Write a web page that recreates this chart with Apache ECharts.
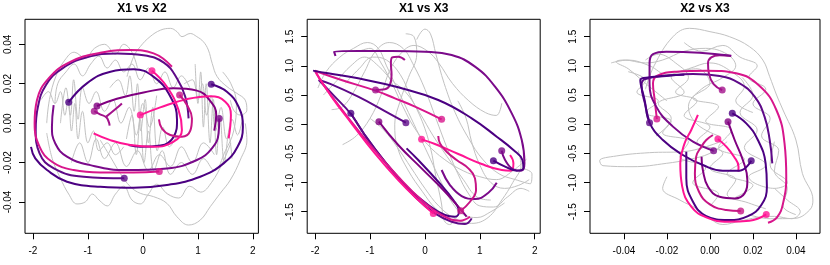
<!DOCTYPE html>
<html><head><meta charset="utf-8">
<script src="https://cdn.jsdelivr.net/npm/echarts@6/dist/echarts.min.js"></script>
<style>html,body{margin:0;padding:0;background:#fff}#c{width:830px;height:265px}</style>
</head><body><div id="c"></div><script>
// ---- tick values ----
const x1Ticks = [-2, -1, 0, 1, 2];
const x2Ticks = [-0.04, -0.02, 0, 0.02, 0.04];
const x3Ticks = [-1.5, -1, -0.5, 0, 0.5, 1, 1.5];
const titles = ['X1 vs X2', 'X1 vs X3', 'X2 vs X3'];

// ---- coloured trajectories: panel 1 (X1,X2) ----
const A1 = [[-1.35,0.0106],[-1.02,0.0202],[-0.59,0.0261],[-0.17,0.0273],[0.19,0.0236],[0.50,0.0134],[0.62,0.0016],[0.56,-0.0069],[0.32,-0.0114],[-0.05,-0.0120],[-0.26,-0.0111]];
const B1 = [[-0.34,-0.0280],[-1.08,-0.0272],[-1.62,-0.0229],[-1.88,-0.0153],[-1.95,-0.0035],[-1.91,0.0083],[-1.76,0.0195],[-1.47,0.0277],[-1.02,0.0334],[-0.47,0.0354],[0.01,0.0345],[0.38,0.0307],[0.62,0.0227],[0.77,0.0134],[0.83,0.0024]];
const C1 = [[-0.885,0.0061],[-0.78,0.0045],[-0.667,0.0030],[-0.62,0.0005],[-0.606,-0.0013]];
const C1b = [[-0.667,0.0033],[-0.503,0.0070],[-0.382,0.0100]];
const D1 = [[-0.836,0.0087],[-0.473,0.0124],[0.012,0.0156],[0.558,0.0177],[0.982,0.0165],[1.212,0.0117],[1.333,0.0041],[1.297,-0.0038]];
const E1 = [[0.297,-0.0245],[-0.170,-0.0250],[-0.776,-0.0250],[-1.261,-0.0238],[-1.655,-0.0196],[-1.879,-0.0120],[-1.97,-0.0001],[-1.927,0.0117],[-1.715,0.0227],[-1.321,0.0311],[-0.776,0.0357],[-0.230,0.0371],[0.194,0.0354],[0.527,0.0286]];
const F1 = [[-0.048,0.0041],[0.315,0.0080],[0.800,0.0122],[1.224,0.0137],[1.497,0.0109],[1.600,0.0041],[1.558,-0.0077]];
const G1 = [[1.388,0.0024],[1.376,-0.0052],[1.255,-0.0128],[0.982,-0.0187],[0.436,-0.0230],[-0.291,-0.0238],[-0.958,-0.0213],[-1.382,-0.0170],[-1.594,-0.0103],[-1.655,-0.0018],[-1.624,0.0092]];
const H1 = [[1.242,0.0197],[1.527,0.0159],[1.739,0.0083],[1.818,-0.0018],[1.721,-0.0120],[1.467,-0.0204],[1.042,-0.0272],[0.436,-0.0314],[-0.170,-0.0328],[-0.776,-0.0323],[-1.382,-0.0297],[-1.745,-0.0238],[-1.958,-0.0179],[-2.036,-0.0120]];
const I1 = [[0.667,0.0143],[0.800,0.0092],[0.891,0.0024],[0.861,-0.0038],[0.709,-0.0069],[0.497,-0.0060],[0.345,-0.0027],[0.291,0.0019]];
const J1 = [[0.164,0.0266],[0.436,0.0185],[0.648,0.0066],[0.709,-0.0035],[0.558,-0.0094],[0.194,-0.0120],[-0.230,-0.0111],[-0.594,-0.0086],[-0.897,-0.0052]];

// ---- coloured trajectories: panel 2 (X1,X3) ----
const A2 = [[-1.350,0.186],[-1.095,-0.185],[-0.730,-0.642],[-0.304,-1.099],[0.061,-1.385],[0.365,-1.557],[0.547,-1.586],[0.620,-1.500],[0.517,-1.300],[0.243,-0.986],[-0.122,-0.614],[-0.335,-0.414]];
const B2 = [[-0.347,0.026],[-0.730,0.226],[-1.217,0.472],[-1.703,0.683],[-1.934,0.758],[-1.642,0.472],[-1.350,0.175],[-1.034,-0.271],[-0.608,-0.785],[-0.182,-1.243],[0.182,-1.529],[0.487,-1.671],[0.730,-1.711],[0.852,-1.614]];
const C2 = [[-0.900,0.586],[-0.730,0.598],[-0.639,0.672],[-0.608,0.843],[-0.620,1.043],[-0.596,1.146],[-0.487,1.158],[-0.365,1.100]];
const D2 = [[-0.839,0.043],[-0.487,-0.357],[-0.061,-0.757],[0.365,-1.157],[0.608,-1.414],[0.760,-1.586]];
const E2 = [[0.304,0.083],[-0.182,0.301],[-0.547,0.443],[-0.900,0.575],[-1.521,0.758],[-2.007,0.917],[-1.825,0.643],[-1.460,0.186],[-0.973,-0.386],[-0.487,-0.900],[-0.061,-1.300],[0.304,-1.557],[0.639,-1.654],[0.821,-1.586]];
const F2 = [[-0.061,-0.260],[0.182,-0.340],[0.608,-0.511],[1.034,-0.683],[1.399,-0.785],[1.569,-0.797],[1.612,-0.671],[1.551,-0.528]];
const G2 = [[1.399,-0.454],[1.460,-0.614],[1.612,-0.774],[1.752,-0.797],[1.813,-0.671],[1.764,-0.271],[1.582,0.186],[1.277,0.643],[0.912,0.986],[0.487,1.186],[0.000,1.243],[-0.608,1.255],[-1.217,1.255],[-1.655,1.243],[-1.630,1.169]];
const H2 = [[1.247,-0.626],[1.460,-0.728],[1.673,-0.797],[1.794,-0.757],[1.776,-0.614],[1.612,-0.443],[1.308,-0.214],[0.852,0.101],[0.243,0.415],[-0.487,0.632],[-1.217,0.786],[-1.764,0.872],[-2.038,0.918]];
const I2 = [[0.651,-1.483],[0.821,-1.329],[0.931,-1.129],[0.912,-0.928],[0.791,-0.757],[0.578,-0.614],[0.395,-0.472],[0.274,-0.329],[0.243,-0.203]];
const J2 = [[0.152,-1.529],[-0.122,-1.300],[-0.487,-0.957],[-0.912,-0.500],[-1.338,0.015],[-1.703,0.472],[-1.977,0.872]];
const K2 = [[1.308,-1.003],[1.156,-1.174],[0.912,-1.283],[0.669,-1.231],[0.456,-1.043],[0.304,-0.785]];

// ---- coloured trajectories: panel 3 (X2,X3) ----
const A3 = [[0.0104,0.186],[0.0169,0.015],[0.0223,-0.271],[0.0259,-0.671],[0.0265,-1.071],[0.0239,-1.386],[0.0177,-1.575],[0.0084,-1.643],[-0.0017,-1.575],[-0.0079,-1.329],[-0.0110,-0.928],[-0.0110,-0.471]];
const B3 = [[-0.0281,0.026],[-0.0299,0.301],[-0.0318,0.672],[-0.0304,0.769],[-0.0203,0.826],[-0.0079,0.861],[0.0045,0.826],[0.0138,0.701],[0.0208,0.472],[0.0254,0.129],[0.0278,-0.271],[0.0290,-0.671]];
const C3 = [[0.0057,0.586],[0.0017,0.689],[-0.0005,0.871],[-0.0009,1.043],[0.0006,1.145],[0.0045,1.181],[0.0099,1.169]];
const D3 = [[0.0084,0.043],[0.0115,-0.271],[0.0153,-0.614],[0.0174,-0.957],[0.0161,-1.186],[0.0115,-1.272],[0.0045,-1.243],[-0.0009,-1.071],[-0.0033,-0.786],[-0.0039,-0.557]];
const E3 = [[-0.0247,0.089],[-0.0257,0.415],[-0.0265,0.701],[-0.0247,0.826],[-0.0157,0.901],[-0.0017,0.918],[0.0122,0.872],[0.0231,0.655],[0.0309,0.243],[0.0347,-0.328],[0.0355,-0.900],[0.0340,-1.357],[0.0312,-1.597],[0.0270,-1.689]];
const F3 = [[0.0037,-0.254],[0.0076,-0.385],[0.0112,-0.557],[0.0133,-0.728],[0.0132,-0.814]];
const G3 = [[0.0017,-0.454],[-0.0079,-0.299],[-0.0172,-0.042],[-0.0250,0.301],[-0.0281,0.701],[-0.0281,1.043],[-0.0265,1.203],[-0.0203,1.243],[-0.0048,1.226],[0.0099,1.175]];
const H3 = [[0.0192,-0.625],[0.0138,-0.797],[0.0060,-0.797],[-0.0033,-0.700],[-0.0126,-0.528],[-0.0219,-0.271],[-0.0281,0.026],[-0.0304,0.415],[-0.0324,0.758],[-0.0281,0.803],[-0.0188,0.838],[-0.0119,0.849]];
const I3 = [[0.0143,-1.489],[0.0076,-1.471],[-0.0002,-1.369],[-0.0051,-1.157],[-0.0070,-0.843],[-0.0064,-0.557],[-0.0040,-0.385],[-0.0017,-0.271],[0.0014,-0.185]];
const J3 = [[0.0262,-1.546],[0.0184,-1.655],[0.0084,-1.671],[-0.0017,-1.597],[-0.0087,-1.414],[-0.0129,-1.071],[-0.0138,-0.671],[-0.0118,-0.329],[-0.0087,-0.100],[-0.0056,0.158]];

// ---- grey background trajectories ----
const grayP1a = [[-0.29,0.0236],[-0.17,0.0337],[-0.05,0.0388],[0.13,0.0439],[0.32,0.0472],[0.50,0.0481],[0.62,0.0464],[0.71,0.0439],[0.86,0.0455],[0.98,0.0439],[1.10,0.0413],[1.19,0.0371],[1.26,0.0303],[1.35,0.0236],[1.53,0.0185],[1.71,0.0151],[1.86,0.0117],[1.89,0.0066],[1.77,0.0041],[1.65,0.0066],[1.59,0.0117]];
const grayP1b = [[-0.776,-0.0086],[-0.594,-0.0170],[-0.412,-0.0255],[-0.230,-0.0322],[-0.048,-0.0356],[0.194,-0.0373],[0.436,-0.0407],[0.618,-0.0475],[0.830,-0.0517],[1.042,-0.0492],[1.224,-0.0424],[1.406,-0.0356],[1.588,-0.0289],[1.770,-0.0187],[1.891,-0.0086],[1.861,-0.0001]];
const grayP1c = [[-1.85,0.012],[-1.72,0.016],[-1.60,0.010],[-1.50,0.016],[-1.42,0.004],[-1.36,0.012],[-1.30,-0.004],[-1.24,0.010],[-1.18,-0.008],[-1.10,0.006],[-1.00,-0.010],[-0.90,-0.004],[-0.80,-0.014],[-0.65,-0.010],[-0.50,-0.016],[-0.35,-0.012]];
const grayP1d = [[-0.60,0.018],[-0.45,0.022],[-0.32,0.014],[-0.24,0.024],[-0.16,0.006],[-0.10,0.020],[-0.04,-0.004],[0.04,0.012],[0.10,-0.010],[0.18,0.008],[0.26,-0.014],[0.36,-0.002],[0.48,-0.012],[0.62,-0.006]];
const grayP1e = [[0.75,0.020],[0.90,0.022],[1.00,0.012],[1.08,0.020],[1.16,0.004],[1.24,0.014],[1.32,-0.004],[1.42,0.008],[1.52,-0.008],[1.62,0.002],[1.72,-0.006],[1.82,0.004]];
const grayP1f = [[-1.75,-0.005],[-1.65,-0.018],[-1.50,-0.028],[-1.35,-0.036],[-1.20,-0.041],[-1.05,-0.040],[-0.92,-0.036],[-0.80,-0.039],[-0.65,-0.042],[-0.50,-0.036],[-0.35,-0.032],[-0.20,-0.039],[-0.05,-0.041],[0.10,-0.036],[0.25,-0.031],[0.45,-0.036],[0.65,-0.038],[0.85,-0.032],[1.05,-0.035],[1.25,-0.030],[1.45,-0.020],[1.60,-0.010]];
const grayP1g = [[-1.60,0.010],[-1.55,0.020],[-1.40,0.026],[-1.25,0.030],[-1.10,0.024],[-0.95,0.030],[-0.80,0.034],[-0.65,0.028],[-0.50,0.032],[-0.35,0.026],[-0.20,0.030],[-0.05,0.022],[0.10,0.028],[0.25,0.020],[0.40,0.026],[0.55,0.018],[0.70,0.024],[0.85,0.018]];
const grayP1h = [[-1.30,-0.020],[-1.15,-0.010],[-1.00,-0.020],[-0.85,-0.008],[-0.70,-0.018],[-0.50,-0.010],[-0.30,-0.022],[-0.10,-0.014],[0.10,-0.024],[0.30,-0.016],[0.50,-0.022],[0.70,-0.012],[0.90,-0.020],[1.10,-0.010],[1.30,-0.016]];
const grayP1i = [[-1.50,0.000],[-1.40,0.018],[-1.32,0.004],[-1.26,0.022],[-1.18,0.002],[-1.10,0.018],[-0.98,0.010],[-0.85,0.016],[-0.70,0.006],[-0.55,0.012],[-0.40,0.000],[-0.25,0.008],[-0.12,-0.006],[0.00,0.010],[0.12,-0.002],[0.25,0.014]];
const grayP1j = [[-0.30,-0.008],[-0.20,0.004],[-0.12,-0.016],[-0.05,0.002],[0.02,-0.020],[0.10,-0.004],[0.20,-0.024],[0.35,-0.014],[0.50,-0.026],[0.70,-0.020],[0.90,-0.026],[1.10,-0.018],[1.30,-0.024],[1.50,-0.014],[1.65,-0.004],[1.70,0.010],[1.60,0.020],[1.45,0.026]];
const grayP1k = [[-1.75,0.000],[-1.70,0.012],[-1.58,0.024],[-1.42,0.032],[-1.25,0.036],[-1.05,0.033],[-0.88,0.038],[-0.70,0.040],[-0.50,0.035],[-0.35,0.040],[-0.20,0.036],[-0.10,0.028]];
const grayP1l = [[0.95,0.030],[1.00,0.010],[1.05,0.026],[1.10,-0.002],[1.15,0.020],[1.22,-0.010],[1.28,0.012],[1.34,-0.016],[1.40,0.004],[1.48,-0.020],[1.56,-0.006],[1.62,-0.018]];

const grayP2a = [[-1.95,0.62],[-1.80,0.90],[-1.55,1.15],[-1.30,1.30],[-1.05,1.40],[-0.85,1.30],[-0.70,1.00],[-0.50,0.60],[-0.30,0.20],[-0.10,-0.20],[0.10,-0.60],[0.30,-1.00],[0.50,-1.35],[0.70,-1.55],[0.95,-1.60],[1.20,-1.50],[1.45,-1.35]];
const grayP2b = [[-0.15,1.45],[0.00,1.63],[0.10,1.55],[0.20,1.20],[0.35,0.70],[0.55,0.20],[0.80,-0.25],[1.05,-0.60],[1.35,-0.85],[1.65,-0.95],[1.92,-1.02],[1.95,-0.85],[1.75,-0.75]];
const grayP2c = [[-1.70,0.25],[-1.50,0.30],[-1.30,0.55],[-1.10,0.90],[-0.90,1.25],[-0.65,1.40],[-0.40,1.30],[-0.20,1.00],[0.00,0.60],[0.20,0.10],[0.40,-0.40],[0.60,-0.85],[0.80,-1.20],[1.00,-1.40],[1.25,-1.42],[1.50,-1.25],[1.75,-1.10],[1.90,-1.15]];
const grayP2d = [[-1.45,0.70],[-1.20,0.95],[-0.95,1.15],[-0.70,1.10],[-0.45,0.85],[-0.25,0.45],[-0.05,0.05],[0.10,-0.40],[0.20,-0.90],[0.30,-1.35],[0.35,-1.65],[0.45,-1.72],[0.60,-1.55]];
const grayP2e = [[1.40,0.36],[1.30,0.15],[1.10,0.20],[0.80,0.40],[0.50,0.70],[0.25,1.05],[0.05,1.25],[-0.20,1.35],[-0.45,1.20],[-0.65,0.90],[-0.80,0.50],[-1.00,0.10],[-1.25,-0.20],[-1.50,-0.35]];
const grayP2f = [[-1.00,0.10],[-0.75,-0.10],[-0.50,-0.40],[-0.25,-0.75],[0.00,-1.10],[0.25,-1.40],[0.55,-1.62],[0.85,-1.70],[1.15,-1.60],[1.40,-1.30],[1.60,-1.00],[1.75,-0.70],[1.70,-0.45]];
const grayP2g = [[-0.35,1.55],[-0.20,1.50],[-0.15,1.20],[-0.30,0.80],[-0.45,0.40],[-0.55,0.00],[-0.50,-0.40],[-0.30,-0.80],[-0.05,-1.15],[0.20,-1.45],[0.45,-1.60]];
const grayP2h = [[-1.20,1.25],[-1.00,1.30],[-0.80,1.05],[-0.60,0.70],[-0.40,0.30],[-0.20,-0.05],[0.05,-0.35],[0.35,-0.60],[0.70,-0.80],[1.00,-0.90],[1.30,-0.95],[1.60,-0.80],[1.85,-0.60]];
const grayP2i = [[0.60,0.40],[0.75,0.10],[0.85,-0.30],[1.00,-0.70],[1.20,-1.00],[1.45,-1.10],[1.70,-1.05],[1.90,-0.95]];
const grayP2j = [[-1.85,0.50],[-1.60,0.75],[-1.35,1.00],[-1.10,1.15],[-0.85,1.00],[-0.60,0.75],[-0.35,0.55],[-0.10,0.20],[0.15,-0.20],[0.40,-0.55],[0.70,-0.95],[0.95,-1.25],[1.20,-1.30]];

const grayP3a = [[0.005,-0.30],[-0.005,-0.42],[-0.0126,-0.471],[-0.0281,-0.488],[-0.0436,-0.545],[-0.0513,-0.625],[-0.0498,-0.711],[-0.0358,-0.728],[-0.0203,-0.671],[-0.0095,-0.602],[0.000,-0.50],[0.008,-0.30]];
const grayP3b = [[-0.030,0.60],[-0.026,1.00],[-0.0172,1.50],[-0.0095,1.643],[0.000,1.586],[0.0091,1.500],[0.0184,1.329],[0.0246,1.100],[0.0278,0.815],[0.031,0.50],[0.034,0.243],[0.040,-0.271],[0.043,-0.843],[0.0479,-1.30],[0.0464,-1.47],[0.0394,-1.614],[0.028,-1.62],[0.018,-1.55]];
const grayP3c = [[-0.020,0.40],[-0.030,0.70],[-0.038,0.95],[-0.0436,1.071],[-0.040,1.10],[-0.030,1.05],[-0.022,1.10],[-0.012,1.25],[-0.002,1.30],[0.008,1.20],[0.012,1.00],[0.006,0.80],[-0.004,0.60],[-0.010,0.30],[-0.006,0.00],[0.004,-0.20]];
const grayP3d = [[-0.025,-0.20],[-0.018,0.10],[-0.024,0.35],[-0.012,0.55],[-0.018,0.80],[-0.006,0.95],[0.000,0.70],[-0.008,0.45],[0.004,0.30],[-0.002,0.05],[0.010,-0.10],[0.004,-0.40],[0.016,-0.60],[0.008,-0.85],[0.020,-1.05],[0.012,-1.25]];
const grayP3e = [[-0.020,-0.90],[-0.022,-1.10],[-0.014,-1.30],[-0.006,-1.45],[0.000,-1.62],[0.006,-1.72],[0.014,-1.66],[0.022,-1.60],[0.030,-1.58],[0.038,-1.62],[0.042,-1.50],[0.036,-1.30],[0.030,-1.10]];
const grayP3f = [[0.015,0.80],[0.020,0.50],[0.014,0.20],[0.022,-0.10],[0.016,-0.40],[0.026,-0.70],[0.018,-0.90],[0.030,-1.10],[0.036,-1.00],[0.028,-0.70],[0.030,-0.30]];
const grayP3g = [[-0.030,1.10],[-0.024,1.20],[-0.016,1.05],[-0.010,0.80],[-0.016,0.55],[-0.006,0.40],[-0.012,0.15],[0.000,-0.05],[-0.006,-0.30],[0.006,-0.50],[0.000,-0.75],[0.012,-0.95],[0.008,-1.20],[0.018,-1.35],[0.026,-1.45]];
const grayP3h = [[-0.038,0.90],[-0.030,0.75],[-0.034,0.55],[-0.024,0.40],[-0.030,0.20],[-0.018,0.05],[-0.022,-0.15],[-0.010,-0.30],[-0.014,-0.55],[-0.002,-0.75],[-0.008,-1.00],[0.004,-1.20],[0.000,-1.40]];
const grayP3i = [[-0.012,1.40],[-0.004,1.25],[0.006,1.35],[0.014,1.15],[0.022,1.00],[0.018,0.80],[0.026,0.60],[0.020,0.35],[0.028,0.10],[0.024,-0.20],[0.032,-0.45],[0.030,-0.80],[0.036,-1.10],[0.034,-1.40],[0.040,-1.55]];
const grayP3j = [[-0.046,1.05],[-0.038,1.10],[-0.028,1.00],[-0.020,0.85],[-0.010,0.95],[0.000,1.05],[0.010,0.90],[0.016,0.65],[0.012,0.40],[0.020,0.20]];

// ---- styling / assembly ----
const FONT = 'Liberation Sans, Arial, Helvetica, sans-serif';
const trajectories = [
  {color:'#4B0082', p:[A1, A2, A3], dot:true},
  {color:'#5E0A88', p:[B1, B2, B3], dot:true},
  {color:'#A3128B', p:[C1, C2, C3], dot:true},
  {color:'#A3128B', p:[C1b, null, null], dot:false},
  {color:'#800080', p:[D1, D2, D3], dot:true},
  {color:'#D8168C', p:[E1, E2, E3], dot:true},
  {color:'#FF1493', p:[F1, F2, F3], dot:true},
  {color:'#7A0A8A', p:[G1, G2, G3], dot:true},
  {color:'#7A0A8A', p:[null, K2, null], dot:false},
  {color:'#4B0082', p:[H1, H2, H3], dot:true},
  {color:'#C71585', p:[I1, I2, I3], dot:true},
  {color:'#FF1493', p:[J1, J2, J3], dot:true}
];
const grays = [
  [grayP1a, grayP1b, grayP1c, grayP1d, grayP1e, grayP1f, grayP1g, grayP1h, grayP1i, grayP1j, grayP1k, grayP1l],
  [grayP2a, grayP2b, grayP2c, grayP2d, grayP2e, grayP2f, grayP2g, grayP2h, grayP2i, grayP2j],
  [grayP3a, grayP3b, grayP3c, grayP3d, grayP3e, grayP3f, grayP3g, grayP3h, grayP3i, grayP3j]
];

const grids = [
  {left:25, top:19.3, width:233.4, height:214},
  {left:307.2, top:19.3, width:233, height:214},
  {left:590, top:19.3, width:230, height:214}
].map(g => Object.assign(g, {show:true, borderColor:'#000', borderWidth:1, backgroundColor:'#fff', containLabel:false}));

function fmt(v, dec){ return (Math.abs(v) < 1e-12 ? 0 : v).toFixed(dec); }
function axis(gi, min, max, ticks, dec, isY){
  return {
    type:'value', gridIndex:gi, min:min, max:max, scale:true,
    splitLine:{show:false}, axisLine:{show:false, onZero:false},
    axisTick:{show:true, inside:false, length:6, customValues:ticks, lineStyle:{color:'#000', width:1}},
    axisLabel:{show:true, customValues:ticks, formatter:v => fmt(v, dec), color:'#000', fontSize:10, fontFamily:FONT,
      margin: isY ? 12 : 13, rotate: isY ? 90 : 0}
  };
}
const xAxes = [
  axis(0, -2.145, 2.10, x1Ticks, 0, false),
  axis(1, -2.145, 2.10, x1Ticks, 0, false),
  axis(2, -0.0558, 0.0512, x2Ticks, 2, false)
];
const yAxes = [
  axis(0, -0.0559, 0.0527, x2Ticks, 2, true),
  axis(1, -1.870, 1.798, x3Ticks, 1, true),
  axis(2, -1.870, 1.798, x3Ticks, 1, true)
];

const series = [];
grays.forEach((list, pi) => list.forEach(d => series.push({
  type:'line', xAxisIndex:pi, yAxisIndex:pi, data:d, smooth:0.4, showSymbol:false, silent:true, z:1,
  lineStyle:{color:'#C2C2C2', width:1}
})));
trajectories.forEach(t => t.p.forEach((d, pi) => {
  if (!d) return;
  series.push({type:'line', xAxisIndex:pi, yAxisIndex:pi, data:d, smooth:0.45, showSymbol:false, silent:true, z:2,
    lineStyle:{color:t.color, width:2}});
}));
for (let pi = 0; pi < 3; pi++) {
  const pts = trajectories.filter(t => t.dot && t.p[pi]).map(t => ({value:t.p[pi][0], itemStyle:{color:t.color}}));
  series.push({type:'scatter', xAxisIndex:pi, yAxisIndex:pi, data:pts, symbolSize:7, silent:true, z:3});
}

const centers = [142, 423.7, 705];
const graphic = titles.map((t, i) => ({
  type:'text', x:centers[i], y:8.5, z:10,
  style:{text:t, font:'bold 12px ' + FONT, fill:'#000', align:'center', verticalAlign:'middle'}
}));

const chart = echarts.init(document.getElementById('c'), null, {renderer:'canvas'});
chart.setOption({
  animation:false, backgroundColor:'#fff',
  grid:grids, xAxis:xAxes, yAxis:yAxes, series:series, graphic:graphic
});
</script></body></html>
